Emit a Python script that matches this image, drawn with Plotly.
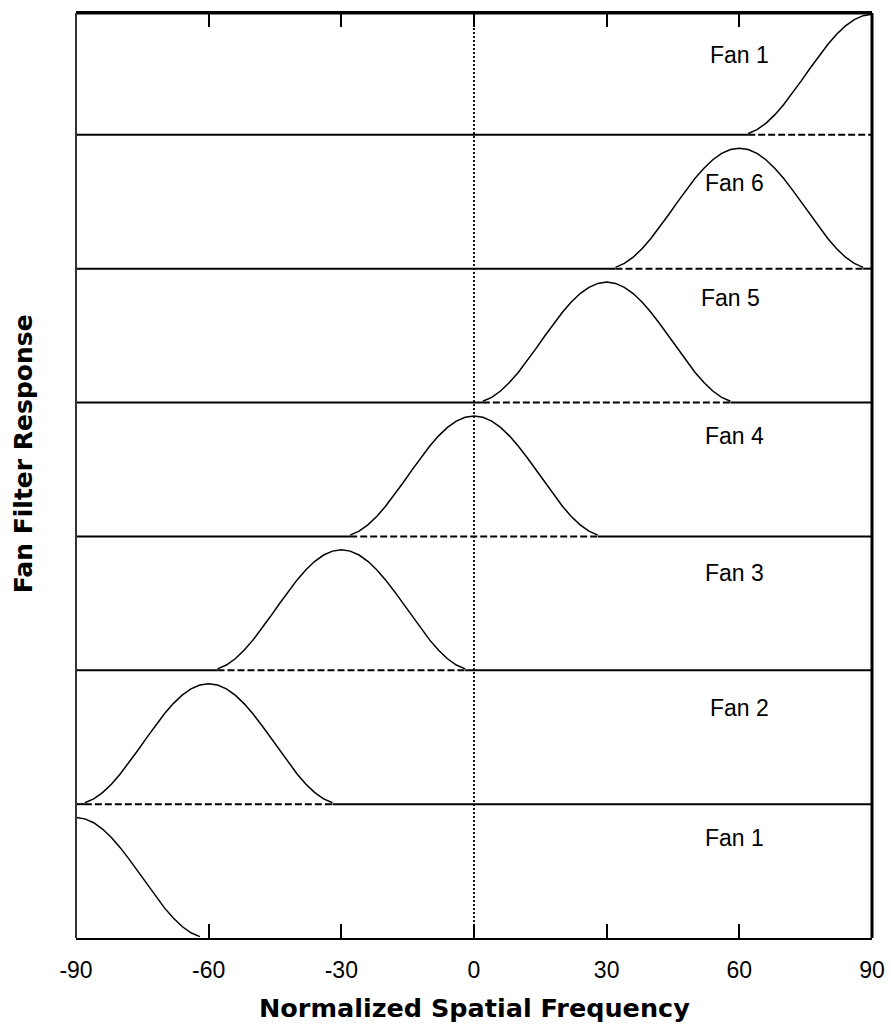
import plotly.graph_objects as go

# ---- data ----
fan_names = ["Fan 1", "Fan 2", "Fan 3", "Fan 4", "Fan 5", "Fan 6", "Fan 1"]
fan_centers = [-90, -60, -30, 0, 30, 60, 90]          # peak frequency of each fan
fan_baselines = [0, 1, 2, 3, 4, 5, 6]                 # band index (stacked offset)
label_x = [59, 60, 59, 59, 58, 59, 60]
label_y = [0.75, 1.72, 2.73, 3.75, 4.78, 5.64, 6.60]

# response shape of one fan vs offset from its centre (band units)
offsets = [-28, -26, -24, -22, -20, -18, -16, -14, -12, -10, -8, -6, -4, -2, 0,
           2, 4, 6, 8, 10, 12, 14, 16, 18, 20, 22, 24, 26, 28]
response = [0.010, 0.039, 0.086, 0.149, 0.225, 0.311, 0.403, 0.497, 0.589, 0.675,
            0.751, 0.814, 0.861, 0.890, 0.900, 0.890, 0.861, 0.814, 0.751, 0.675,
            0.589, 0.497, 0.403, 0.311, 0.225, 0.149, 0.086, 0.039, 0.010]

x_ticks = [-90, -60, -30, 0, 30, 60, 90]
x_range = [-90, 90]
y_top = 6.91

fig = go.Figure()

# baselines: solid outside the fan support, dashed under it
for c, b in zip(fan_centers, fan_baselines):
    if b == 0:
        continue
    lo = max(c + offsets[0], x_range[0])
    hi = min(c + offsets[-1], x_range[1])
    if lo > x_range[0]:
        fig.add_trace(go.Scatter(x=[x_range[0], lo], y=[b, b], mode="lines",
                                 line=dict(color="black", width=2), hoverinfo="skip"))
    fig.add_trace(go.Scatter(x=[lo, hi], y=[b, b], mode="lines",
                             line=dict(color="black", width=2, dash="7px,3px"),
                             hoverinfo="skip"))
    if hi < x_range[1]:
        fig.add_trace(go.Scatter(x=[hi, x_range[1]], y=[b, b], mode="lines",
                                 line=dict(color="black", width=2), hoverinfo="skip"))

# fan response curves
for name, c, b in zip(fan_names, fan_centers, fan_baselines):
    xs = [c + o for o in offsets]
    ys = [b + r for r in response]
    fig.add_trace(go.Scatter(x=xs, y=ys, mode="lines", name=name,
                             line=dict(color="black", width=1.5)))

# dotted zero line
fig.add_trace(go.Scatter(x=[0, 0], y=[0, y_top], mode="lines",
                         line=dict(color="black", width=1.8, dash="2px,2px"),
                         hoverinfo="skip"))

# fan labels
for name, lx, ly in zip(fan_names, label_x, label_y):
    fig.add_annotation(x=lx, y=ly, text=name, showarrow=False,
                       font=dict(family="Liberation Sans", size=23, color="black"))

# frame
fig.add_shape(type="line", xref="paper", yref="paper", x0=0, x1=1, y0=1, y1=1,
              line=dict(color="black", width=3))
fig.add_shape(type="line", xref="paper", yref="paper", x0=1, x1=1, y0=0, y1=1,
              line=dict(color="black", width=3))
fig.add_shape(type="line", xref="paper", yref="paper", x0=0, x1=0, y0=0, y1=1,
              line=dict(color="#333333", width=2))

# axis titles
fig.add_annotation(xref="paper", yref="paper", x=0.5, y=-0.0757,
                   text="Normalized Spatial Frequency", showarrow=False,
                   xanchor="center", yanchor="middle",
                   font=dict(family="DejaVu Sans", size=25.5, color="black", weight="bold"))
fig.add_annotation(xref="paper", yref="paper", x=-0.0666, y=0.524,
                   text="Fan Filter Response", showarrow=False, textangle=-90,
                   xanchor="center", yanchor="middle",
                   font=dict(family="DejaVu Sans", size=25, color="black", weight="bold"))

fig.update_layout(
    width=891, height=1034,
    margin=dict(l=76, r=19, t=13, b=96),
    plot_bgcolor="white", paper_bgcolor="white",
    showlegend=False,
    xaxis=dict(range=x_range, tickvals=x_ticks, ticktext=[str(v) for v in x_ticks],
               ticks="inside", ticklen=14, tickwidth=2, tickcolor="black",
               showline=True, linecolor="black", linewidth=2, mirror="ticks",
               showgrid=False, zeroline=False, ticklabelstandoff=10, automargin=False,
               tickfont=dict(family="Liberation Sans", size=23, color="black")),
    yaxis=dict(range=[0, y_top], showticklabels=False, ticks="", showgrid=False,
               zeroline=False, showline=False),
)

fig.write_html("out.html")
